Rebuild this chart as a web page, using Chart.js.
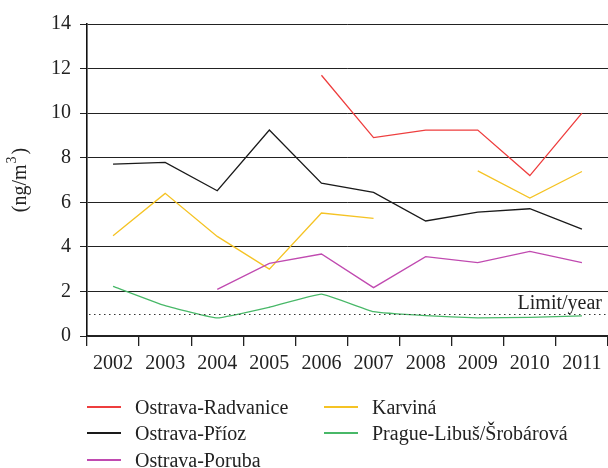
<!DOCTYPE html>
<html>
<head>
<meta charset="utf-8">
<script src="https://cdn.jsdelivr.net/npm/chart.js@4.4.1/dist/chart.umd.min.js"></script>
<style>
  html, body { margin: 0; padding: 0; background: #fff; }
  #wrap { position: relative; width: 608px; height: 468px; }
  #legend { position: absolute; left: 0; top: 0; width: 608px; height: 468px; pointer-events: none;
            font-family: "Liberation Serif", "DejaVu Serif", serif; font-size: 20px; color: #222; }
  .item { position: absolute; height: 22px; line-height: 22px; white-space: nowrap; }
  .item .sw { position: absolute; left: 0; top: 10px; width: 34px; height: 2px; }
  .item .tx { position: absolute; left: 48px; top: 0; }
</style>
</head>
<body>
<div id="wrap">
  <canvas id="c" width="608" height="468"></canvas>
  <div id="legend"></div>
</div>
<script>
const years = ["2002","2003","2004","2005","2006","2007","2008","2009","2010","2011"];
const radvanice = [null, null, null, null, 11.7, 8.9, 9.24, 9.24, 7.2, 10.0];
const prioz     = [7.71, 7.79, 6.52, 9.24, 6.86, 6.44, 5.16, 5.56, 5.71, 4.80];
const poruba    = [null, null, 2.09, 3.26, 3.68, 2.17, 3.56, 3.29, 3.80, 3.29];
const karvina   = [4.50, 6.40, 4.47, 3.00, 5.52, 5.28, null, 7.41, 6.19, 7.38];
const prague    = [2.23, 1.36, 0.81, 1.29, 1.88, 1.09, 0.91, 0.81, 0.84, 0.90];
const limitValue = 1;
const limitLabel = "Limit/year";
const yTicks = [0, 2, 4, 6, 8, 10, 12, 14];
const yTitleMain = "(ng/m";
const yTitleSup = "3";
const yTitleEnd = ")";

const FONT = "Liberation Serif";
const FS = 20;

const series = [
  { label: "Ostrava-Radvanice", data: radvanice, color: "#ee3e3e", tension: 0, col: 0, row: 0 },
  { label: "Ostrava-Příoz", data: prioz, color: "#1a1a1a", tension: 0, col: 0, row: 1 },
  { label: "Ostrava-Poruba", data: poruba, color: "#c04ab0", tension: 0, col: 0, row: 2 },
  { label: "Karviná", data: karvina, color: "#f5c324", tension: 0, col: 1, row: 0 },
  { label: "Prague-Libuš/Šrobárová", data: prague, color: "#48b868", tension: 0.1, col: 1, row: 1 }
];

const limitPlugin = {
  id: "limitLine",
  afterDatasetsDraw(chart) {
    const { ctx, chartArea, scales } = chart;
    const y = Math.round(scales.y.getPixelForValue(limitValue)) + 0.5;
    ctx.save();
    ctx.strokeStyle = "#333";
    ctx.lineWidth = 1.2;
    ctx.setLineDash([1.5, 3.5]);
    ctx.beginPath();
    ctx.moveTo(chartArea.left + 2, y);
    ctx.lineTo(chartArea.right, y);
    ctx.stroke();
    ctx.setLineDash([]);
    ctx.fillStyle = "#222";
    ctx.font = FS + "px '" + FONT + "'";
    ctx.textAlign = "right";
    ctx.textBaseline = "alphabetic";
    ctx.fillText(limitLabel, chartArea.right - 6, y - 6);
    ctx.restore();
  }
};

const yTitlePlugin = {
  id: "yTitle",
  afterDraw(chart) {
    const { ctx, chartArea } = chart;
    ctx.save();
    ctx.translate(26, (chartArea.top + chartArea.bottom) / 2);
    ctx.rotate(-Math.PI / 2);
    ctx.fillStyle = "#222";
    ctx.textBaseline = "alphabetic";
    ctx.textAlign = "left";
    const big = FS + "px '" + FONT + "'";
    const small = Math.round(FS * 0.7) + "px '" + FONT + "'";
    ctx.font = big;
    const w1 = ctx.measureText(yTitleMain).width;
    const w3 = ctx.measureText(yTitleEnd).width;
    ctx.font = small;
    const w2 = ctx.measureText(yTitleSup).width;
    const total = w1 + w2 + 3 + w3;
    let x = -total / 2;
    ctx.font = big;
    ctx.fillText(yTitleMain, x, 0);
    x += w1;
    ctx.font = small;
    ctx.fillText(yTitleSup, x + 1, -10);
    x += w2 + 3;
    ctx.font = big;
    ctx.fillText(yTitleEnd, x, 0);
    ctx.restore();
  }
};

new Chart(document.getElementById("c"), {
  type: "line",
  data: {
    labels: years,
    datasets: series.map(s => ({
      label: s.label,
      data: s.data,
      borderColor: s.color,
      backgroundColor: s.color,
      borderWidth: 1.3,
      pointRadius: 0,
      pointHoverRadius: 0,
      tension: s.tension,
      spanGaps: false,
      fill: false
    }))
  },
  options: {
    responsive: false,
    animation: false,
    layout: { padding: { top: 24, right: 0, bottom: 82, left: 0 } },
    plugins: { legend: { display: false }, tooltip: { enabled: false } },
    scales: {
      x: {
        offset: true,
        grid: { display: true, drawOnChartArea: false, drawTicks: true, offset: true, tickLength: 10, color: "#222", lineWidth: 1.3 },
        border: { display: true, color: "#222", width: 1.3 },
        ticks: { color: "#222", padding: 6, font: { family: FONT, size: FS }, maxRotation: 0, autoSkip: false },
        afterFit(scale) { scale.height = 50; scale.paddingLeft = 0; scale.paddingRight = 0; }
      },
      y: {
        min: 0, max: 14,
        afterBuildTicks(scale) { scale.ticks = yTicks.map(v => ({ value: v })); },
        grid: { color: "#222", lineWidth: 1, drawTicks: true, tickLength: 7 },
        border: { display: true, color: "#111", width: 1.6 },
        ticks: { color: "#222", padding: 9, font: { family: FONT, size: FS } },
        afterFit(scale) { scale.width = 87; }
      }
    }
  },
  plugins: [limitPlugin, yTitlePlugin]
});

const legend = document.getElementById("legend");
const colX = [87, 324];
const rowY = [396, 422, 449];
series.forEach(s => {
  const d = document.createElement("div");
  d.className = "item";
  d.style.left = colX[s.col] + "px";
  d.style.top = rowY[s.row] + "px";
  const sw = document.createElement("span");
  sw.className = "sw";
  sw.style.background = s.color;
  const tx = document.createElement("span");
  tx.className = "tx";
  tx.textContent = s.label;
  d.appendChild(sw); d.appendChild(tx);
  legend.appendChild(d);
});
</script>
</body>
</html>
